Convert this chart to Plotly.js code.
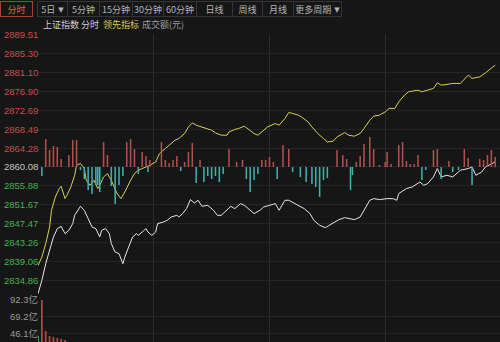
<!DOCTYPE html>
<html><head><meta charset="utf-8">
<script src="https://cdn.plot.ly/plotly-3.0.1.min.js"></script>
<style>
html,body{margin:0;padding:0;background:#161616;overflow:hidden;}
#wrap{position:relative;width:500px;height:342px;}
#chart{position:absolute;left:0;top:0;width:500px;height:342px;}
#bar{position:absolute;left:0;top:0;width:500px;height:40px;pointer-events:none;font-family:"Noto Sans CJK SC","DejaVu Sans",sans-serif;font-size:9px;color:#b4b4b4;white-space:nowrap;}
.btn{position:absolute;top:1px;height:16px;line-height:15px;text-align:center;box-sizing:border-box;border:1px solid #343434;white-space:nowrap;overflow:visible;}
.act{border:1px solid #a5442c;color:#e2633f;}
.lab{position:absolute;top:18px;line-height:14px;font-size:9px;white-space:nowrap;}
.arr{font-family:"DejaVu Sans",sans-serif;font-size:7px;margin-left:3px;vertical-align:1px;}
</style></head>
<body><div id="wrap"><div id="chart"></div><div id="bar"></div></div>
<script>
// ---------- data ----------
const toolbarLabels = ['分时','5日','5分钟','15分钟','30分钟','60分钟','日线','周线','月线','更多周期'];
const toolbarHasMenu = [false,true,false,false,false,false,false,false,false,true];
const legendLabels = ['上证指数','分时','领先指标','成交额(元)'];

const priceTicks = [2889.51,2885.30,2881.10,2876.90,2872.69,2868.49,2864.28,2860.08,2855.88,2851.67,2847.47,2843.26,2839.06,2834.86];
const prevClose = 2860.08;
const volTicks = [92.3,69.2,46.1];
const volTickLabels = ['92.3亿','69.2亿','46.1亿'];

// 上证指数 分时 (white)
const minutesW = [0,2,4,6,8,10,12,14,16,18,19,22,24,26,28,30,32,33,35,37,38,40,42,44,45,47,49,51,52,54,56,57,59,61,62,65,67,69,72,73,75,77,79,81,83,85,88,91,93,95,98,100,102,105,107,110,112,115,117,120,123,125,128,130,133,136,138,141,143,146,149,151,154,156,159,162,164,167,169,172,174,177,181,184,186,187,191,194,198,200,202,205,207,209,212,215,219,223,225,227,230,232,237];
const priceW = [2831.93,2834.89,2838.60,2841.56,2844.52,2846.38,2846.89,2845.27,2846.01,2847.49,2849.34,2851.34,2850.45,2848.61,2846.74,2846.38,2844.52,2846.01,2846.38,2845.27,2843.05,2841.18,2840.82,2838.60,2840.07,2842.29,2844.52,2845.27,2844.89,2845.63,2846.38,2845.63,2844.89,2845.63,2847.49,2847.85,2848.23,2848.96,2849.34,2848.96,2849.72,2850.83,2852.83,2852.08,2852.68,2851.34,2851.56,2850.45,2849.34,2849.34,2850.45,2851.34,2850.83,2851.94,2851.56,2850.45,2849.72,2850.45,2851.19,2851.56,2851.94,2850.45,2852.68,2852.68,2851.94,2851.19,2850.83,2849.72,2848.23,2847.12,2846.61,2847.12,2847.85,2848.38,2848.83,2848.61,2848.38,2848.96,2850.45,2852.68,2853.05,2852.83,2853.05,2853.05,2852.68,2854.17,2855.28,2855.63,2856.74,2856.01,2856.39,2857.86,2859.72,2857.86,2858.23,2857.86,2859.35,2859.72,2860.08,2858.23,2858.97,2860.08,2861.19];

// 领先指标 (yellow)
const minutesL = [0,2,4,6,7,9,11,12,14,15,17,19,20,22,24,25,27,29,31,32,34,36,38,39,41,43,45,48,50,52,54,56,58,61,63,66,68,71,73,76,78,80,82,85,87,90,92,95,98,99,102,104,107,110,112,114,117,119,123,125,128,130,132,135,137,140,142,145,148,150,153,155,159,161,164,167,169,172,174,177,180,182,185,187,190,192,194,197,199,202,205,207,209,212,215,219,223,225,229,232,235,237];
const leadL = [2838.22,2840.07,2843.05,2846.74,2850.45,2853.41,2855.28,2855.79,2853.05,2853.79,2855.63,2858.23,2860.46,2860.84,2859.72,2857.12,2856.01,2857.12,2855.28,2856.01,2857.86,2858.61,2857.12,2856.01,2854.17,2853.05,2854.52,2857.12,2858.61,2859.35,2859.72,2860.08,2860.46,2861.19,2863.06,2864.17,2864.91,2866.02,2866.39,2867.51,2868.97,2869.86,2869.35,2868.97,2868.62,2868.24,2867.64,2867.13,2867.13,2867.86,2868.40,2868.62,2869.13,2868.24,2867.51,2867.13,2868.24,2868.97,2869.73,2869.35,2870.84,2872.18,2871.95,2871.58,2871.06,2870.09,2868.97,2867.51,2866.39,2865.64,2865.79,2866.75,2867.73,2867.13,2866.91,2867.51,2868.62,2870.46,2871.35,2871.58,2872.31,2873.07,2873.07,2874.53,2876.02,2876.76,2876.91,2877.13,2876.76,2877.13,2877.51,2878.76,2878.25,2878.40,2878.62,2878.62,2880.47,2879.74,2880.09,2880.98,2881.96,2882.69];

// 多空力度柱 (red up / teal down)
const strengthMin = [2,4,6,8,10,12,16,18,20,22,24,26,28,30,31,32,34,36,38,40,42,44,46,48,50,52,54,56,57,58,64,66,68,70,72,74,76,78,80,82,84,86,88,90,92,94,96,99,103,106,108,110,112,114,116,118,120,122,124,127,130,132,136,139,142,144,146,148,150,155,158,160,162,163,165,167,169,172,174,177,180,181,183,187,189,191,193,195,197,199,201,205,207,209,213,215,218,221,223,225,229,231,233,235,237];
const strengthVal = [-9,28,17,21,20,8,12,27,27,-3,-12,-23,-27,-18,-18,-25,25,12,-19,-37,-18,-9,25,28,18,-7,15,11,-5,7,25,7,4,7,11,-4,5,15,24,-16,7,-15,-9,-12,-9,-15,-7,18,5,7,-12,-25,-13,-7,7,7,10,5,-12,22,18,-5,-10,-15,-17,-20,-30,-13,-11,17,12,8,-23,-8,5,11,23,30,18,2,5,15,3,22,25,6,3,3,12,-13,-3,17,18,-12,6,-5,-3,18,9,-18,8,7,12,17,10];

// 成交额 (亿元)
const volMin = [0,2,4,6,8,10,12,14];
const volVal = [42.0,91.3,49.2,42.4,41.0,39.7,38.3,37.0];
const volUp = [false,true,true,true,true,true,true,true];

// ---------- build ----------
const RED='#c2504c', TEAL='#3fb0ae', GREEN='#3fb34f';
const traces = [
  {type:'bar', x:strengthMin, y:strengthVal, yaxis:'y3', width:0.8,
   marker:{color:strengthVal.map(v=>v>=0?'#b0504e':TEAL), line:{width:0}}, hoverinfo:'skip'},
  {type:'bar', x:volMin, y:volVal, yaxis:'y2', width:0.9,
   marker:{color:volUp.map(u=>u?'#b04848':GREEN), line:{width:0}}, hoverinfo:'skip'},
  {type:'scatter', mode:'lines', x:minutesL, y:leadL, yaxis:'y',
   line:{color:'#d8cf52', width:1}, hoverinfo:'skip'},
  {type:'scatter', mode:'lines', x:minutesW, y:priceW, yaxis:'y',
   line:{color:'#e6e6e6', width:1}, hoverinfo:'skip'}
];

const annotations = [];
priceTicks.forEach(v=>{
  const c = Math.abs(v-prevClose)<0.001 ? '#c4c4c4' : (v>prevClose ? RED : GREEN);
  annotations.push({xref:'paper', x:0, xanchor:'right', xshift:1, yref:'y', y:v, yanchor:'middle',
    text:v.toFixed(2), showarrow:false, borderpad:0, font:{family:'Liberation Sans, Arial, sans-serif', size:9.5, color:c}});
});
volTicks.forEach((v,i)=>{
  annotations.push({xref:'paper', x:0, xanchor:'right', xshift:1, yref:'y2', y:v, yanchor:'middle',
    text:volTickLabels[i], showarrow:false, borderpad:0, font:{family:'Liberation Sans, Noto Sans CJK SC, sans-serif', size:9.5, color:'#9a9a9a'}});
});

const H=342;
const layout = {
  width:500, height:342, paper_bgcolor:'#161616', plot_bgcolor:'#161616',
  margin:{l:38,r:0,t:0,b:0}, showlegend:false, barmode:'overlay',
  xaxis:{range:[0,239.5], tickvals:[0,60,120,180], showgrid:true, gridcolor:'#2c2c2c', gridwidth:1,
         showticklabels:false, zeroline:false, showline:false, ticks:''},
  yaxis:{domain:[(H-299.5)/H,(H-34.4)/H], range:[2830.65,2889.51], tickvals:priceTicks,
         showgrid:true, gridcolor:'#242424', showticklabels:false, zeroline:false, ticks:''},
  yaxis2:{domain:[0,(H-299.3)/H], range:[34.28,92.3], tickvals:volTicks, showgrid:true,
          gridcolor:'#242424', showticklabels:false, zeroline:false, ticks:''},
  yaxis3:{overlaying:'y', range:[-132.5,132.5], visible:false, showgrid:false, zeroline:false},
  annotations:annotations
};
Plotly.newPlot('chart', traces, layout, {staticPlot:true, displayModeBar:false});

// toolbar (text)
const bar = document.getElementById('bar');
const btnPos = [[0,33],[37,67],[67,99],[99,132],[132,163],[163,196],[196,232],[232,262],[262,293],[293,342]];
toolbarLabels.forEach((t,i)=>{
  const d=document.createElement('div');
  d.className='btn'+(i===0?' act':'');
  d.style.left=btnPos[i][0]+'px';
  d.style.width=(btnPos[i][1]-btnPos[i][0]+ (i>0&&i<toolbarLabels.length-1?1:0))+'px';
  d.appendChild(document.createTextNode(t));
  if(toolbarHasMenu[i]){const a=document.createElement('span');a.className='arr';a.textContent='▼';d.appendChild(a);}
  bar.appendChild(d);
});
const legPos=[43,81,103,142];
const legCol=['#cfcfcf','#cfcfcf','#d8cf52','#9c9c9c'];
legendLabels.forEach((t,i)=>{
  const d=document.createElement('div'); d.className='lab';
  d.style.left=legPos[i]+'px'; d.style.color=legCol[i]; d.textContent=t; bar.appendChild(d);
});
</script></body></html>
